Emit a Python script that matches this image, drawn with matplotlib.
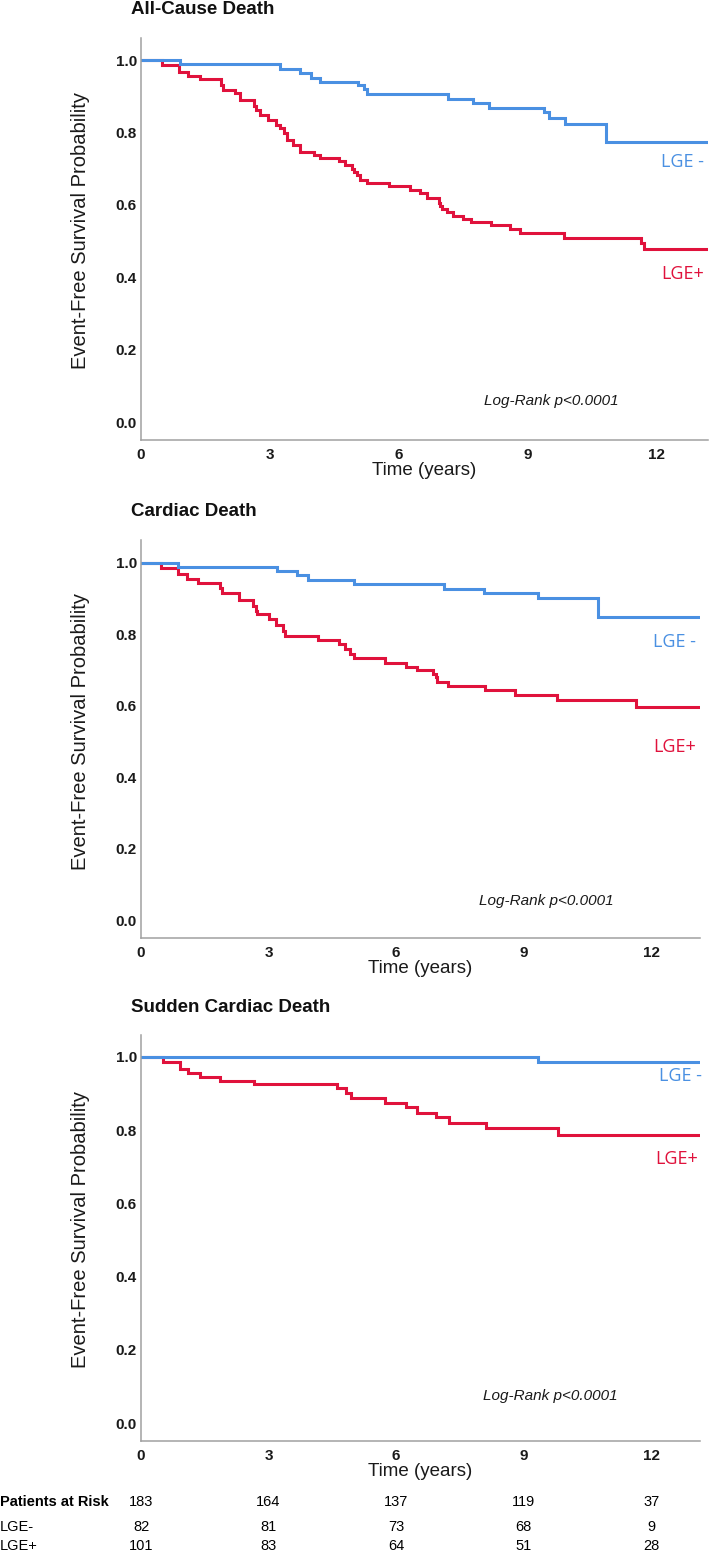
# Kaplan-Meier curves: LGE- vs LGE+ for three endpoints
import matplotlib
matplotlib.use("Agg")
import matplotlib.pyplot as plt
import matplotlib.transforms as mtransforms

plt.rcParams["font.family"] = ["Liberation Sans", "DejaVu Sans"]

BLUE = "#4A90E2"
RED = "#E0123C"

# ==========================================
# Data
# ==========================================

# All-cause death
acd_neg_t = [0.91, 3.24, 3.69, 3.95, 4.17, 5.05, 5.19, 5.26, 7.14, 7.72, 8.09, 9.39, 9.49, 9.88, 10.83]
acd_neg_s = [0.988, 0.976, 0.963, 0.951, 0.940, 0.932, 0.919, 0.906, 0.893, 0.880, 0.867, 0.855, 0.839, 0.823, 0.774]
acd_pos_t = [0.50, 0.89, 1.10, 1.38, 1.86, 1.92, 2.18, 2.30, 2.63, 2.67, 2.76, 2.96, 3.15, 3.24, 3.32,
             3.41, 3.54, 3.71, 4.02, 4.17, 4.62, 4.76, 4.91, 4.95, 5.03, 5.09, 5.26, 5.77, 6.27, 6.50,
             6.66, 6.93, 6.97, 7.01, 7.13, 7.27, 7.50, 7.69, 8.14, 8.59, 8.82, 9.84, 11.65, 11.71]
acd_pos_s = [0.986, 0.968, 0.956, 0.947, 0.931, 0.917, 0.908, 0.889, 0.873, 0.862, 0.848, 0.834, 0.820, 0.811, 0.797,
             0.779, 0.765, 0.747, 0.738, 0.730, 0.722, 0.711, 0.700, 0.692, 0.683, 0.669, 0.660, 0.651, 0.640, 0.633,
             0.619, 0.605, 0.596, 0.589, 0.579, 0.570, 0.561, 0.552, 0.543, 0.534, 0.521, 0.509, 0.495, 0.479]

# Cardiac death
cd_neg_t = [0.87, 3.20, 3.66, 3.92, 5.00, 7.12, 8.08, 9.35, 10.75]
cd_neg_s = [0.988, 0.977, 0.965, 0.953, 0.941, 0.928, 0.915, 0.903, 0.850]
cd_pos_t = [0.48, 0.87, 1.09, 1.35, 1.86, 1.90, 2.31, 2.64, 2.70, 2.74, 3.00, 3.18, 3.35, 3.38, 4.16,
            4.66, 4.79, 4.92, 5.01, 5.73, 6.24, 6.49, 6.86, 6.93, 6.97, 7.23, 8.09, 8.80, 9.78, 11.65]
cd_pos_s = [0.986, 0.969, 0.956, 0.944, 0.930, 0.916, 0.895, 0.879, 0.865, 0.856, 0.842, 0.826, 0.809, 0.795, 0.785,
            0.773, 0.758, 0.744, 0.733, 0.720, 0.710, 0.700, 0.690, 0.680, 0.668, 0.655, 0.644, 0.631, 0.616, 0.597]

# Sudden cardiac death
scd_neg_t = [9.35]
scd_neg_s = [0.986]
scd_pos_t = [0.52, 0.91, 1.11, 1.39, 1.87, 2.66, 4.60, 4.83, 4.94, 5.75, 6.23, 6.49, 6.95, 7.25, 8.12, 9.80]
scd_pos_s = [0.985, 0.967, 0.956, 0.945, 0.935, 0.926, 0.914, 0.902, 0.889, 0.875, 0.862, 0.847, 0.836, 0.820, 0.805, 0.788]

titles = ["All-Cause Death", "Cardiac Death", "Sudden Cardiac Death"]
p_text = "Log-Rank p<0.0001"

# Patients at risk
risk_years = [0, 3, 6, 9, 12]
risk_total = [183, 164, 137, 119, 37]
risk_neg = [82, 81, 73, 68, 9]
risk_pos = [101, 83, 64, 51, 28]

# ==========================================
# Layout (pixels of a 709 x 1553 figure)
# ==========================================

W, H = 709, 1553
fig = plt.figure(figsize=(W / 100, H / 100), dpi=100)

def px_axes(left, top, right, bottom):
    return fig.add_axes([left / W, 1 - bottom / H, (right - left) / W, (bottom - top) / H])

panels = [
    # axes box, xmax, ylim, title y, LGE- (x, y), LGE+ (x, y), p-text (x, y)
    ((141, 38, 708, 440), 13.2, (-0.0497, 1.0608), 9, (13.1, 0.719), (13.1, 0.408), (9.55, 0.058)),
    ((141, 540, 700, 938), 13.15, (-0.0504, 1.0644), 512, (13.05, 0.779), (13.05, 0.485), (9.53, 0.052)),
    ((141, 1035, 700, 1441), 13.15, (-0.049, 1.060), 1008, (13.2, 0.949), (13.1, 0.721), (9.62, 0.075)),
]
curves = [
    (acd_neg_t, acd_neg_s, acd_pos_t, acd_pos_s),
    (cd_neg_t, cd_neg_s, cd_pos_t, cd_pos_s),
    (scd_neg_t, scd_neg_s, scd_pos_t, scd_pos_s),
]


def km_step(ax, times, surv, t_end, color):
    x = [0] + times + [t_end]
    y = [1.0] + surv + [surv[-1]]
    ax.step(x, y, where="post", color=color, linewidth=2.2, solid_joinstyle="miter")


axes = []
for (box, xmax, ylim, title_y, neg_pos, pos_pos, p_pos), (nt, ns, pt, ps), title in zip(panels, curves, titles):
    ax = px_axes(*box)
    axes.append(ax)

    km_step(ax, pt, ps, xmax, RED)
    km_step(ax, nt, ns, xmax, BLUE)

    ax.set_xlim(0, xmax)
    ax.set_ylim(*ylim)
    ax.set_xticks([0, 3, 6, 9, 12])
    ax.set_yticks([0.0, 0.2, 0.4, 0.6, 0.8, 1.0])
    ax.set_yticklabels(["0.0", "0.2", "0.4", "0.6", "0.8", "1.0"])
    ax.tick_params(axis="both", length=0, labelsize=11, colors="#1a1a1a")
    ax.tick_params(axis="x", pad=6)
    ax.tick_params(axis="y", pad=3)
    for lab in ax.get_xticklabels() + ax.get_yticklabels():
        lab.set_fontweight("bold")

    for side in ["top", "right"]:
        ax.spines[side].set_visible(False)
    for side in ["left", "bottom"]:
        ax.spines[side].set_color("#a0a0a0")
        ax.spines[side].set_linewidth(1.1)

    ax.set_xlabel("Time (years)", fontsize=13.5, labelpad=0, color="#1a1a1a")
    ax.set_ylabel("Event-Free Survival Probability", fontsize=14.5, color="#1a1a1a")
    ax.yaxis.set_label_coords(-51 / (box[2] - box[0]), 0.52)

    ax.text(neg_pos[0], neg_pos[1], "LGE -", color=BLUE, fontsize=13,
            family=["Open Sans", "DejaVu Sans"], ha="right", va="center", clip_on=False)
    ax.text(pos_pos[0], pos_pos[1], "LGE+", color=RED, fontsize=13,
            family=["Open Sans", "DejaVu Sans"], ha="right", va="center", clip_on=False)
    ax.text(p_pos[0], p_pos[1], p_text, fontsize=11, style="italic",
            ha="center", va="center", color="#1a1a1a")

    fig.text(131 / W, 1 - title_y / H, title, fontsize=13.5, fontweight="bold",
             ha="left", va="center", color="#111111")

# ==========================================
# Patients at risk table
# ==========================================

ax3 = axes[-1]
trans = mtransforms.blended_transform_factory(ax3.transData, fig.transFigure)
rows = [("Patients at Risk", risk_total, 1502, "bold", 10.5),
        ("LGE-", risk_neg, 1527, "normal", 10.5),
        ("LGE+", risk_pos, 1546, "normal", 10.5)]
for name, counts, y_px, weight, fs in rows:
    fig.text(0, 1 - y_px / H, name, fontsize=fs, fontweight=weight, ha="left", va="center")
    for yr, n in zip(risk_years, counts):
        ax3.text(yr, 1 - y_px / H, str(n), transform=trans, fontsize=10.5,
                 ha="center", va="center", clip_on=False)

plt.savefig("out.png", dpi=100)
